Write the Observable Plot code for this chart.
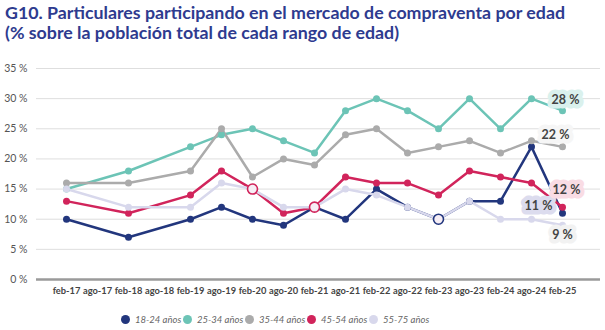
<!DOCTYPE html>
<html><head><meta charset="utf-8">
<script src="https://cdn.jsdelivr.net/npm/d3@7"></script>
<script src="https://cdn.jsdelivr.net/npm/@observablehq/plot@0.6"></script>
<style>
body{margin:0;background:#fff;width:605px;height:330px;overflow:hidden;position:relative;font-family:Lato,sans-serif}
#title{position:absolute;left:5px;top:2px;font-weight:700;font-size:17.8px;line-height:20px;color:#2e3b8f;font-family:Lato,sans-serif;white-space:nowrap}
#chart{position:absolute;left:0;top:48px}
#legend{position:absolute;top:314px;left:121px;display:flex;font-style:italic;font-size:9.5px;color:#666;font-family:Lato,sans-serif;white-space:nowrap}
#legend .it{display:flex;align-items:center;width:62px;flex:none}
#legend .sw{width:9px;height:9px;border-radius:50%;margin-right:5px;flex:none}
</style></head>
<body>
<div id="title">G10. Particulares participando en el mercado de compraventa por edad<br>(% sobre la población total de cada rango de edad)</div>
<div id="chart"></div>
<div id="legend"></div>
<script>
// Axis categories (all tick labels)
const dates = ["feb-17","ago-17","feb-18","ago-18","feb-19","ago-19","feb-20","ago-20","feb-21","ago-21","feb-22","ago-22","feb-23","ago-23","feb-24","ago-24","feb-25"];
// Observation dates
const obsDates = ["feb-17","feb-18","feb-19","ago-19","feb-20","ago-20","feb-21","ago-21","feb-22","ago-22","feb-23","ago-23","feb-24","ago-24","feb-25"];
const series = ["18-24 años","25-34 años","35-44 años","45-54 años","55-75 años"];
const v1824 = [10,7,10,12,10,9,12,10,15,12,10,13,13,22,11];
const v2534 = [15,18,22,24,25,23,21,28,30,28,25,30,25,30,28];
const v3544 = [16,16,18,25,17,20,19,24,25,21,22,23,21,23,22];
const v4554 = [13,11,14,18,15,11,12,17,16,16,14,18,17,16,12];
const v5575 = [15,12,12,16,15,12,12,15,14,12,10,13,10,10,9];
const yTicks = [0,5,10,15,20,25,30,35];
// highlighted (overlapping) markers
const rings = [["feb-20","45-54 años"],["feb-21","45-54 años"],["feb-23","18-24 años"]];

// styles
const colors = ["#22367d","#6cc4b6","#ababab","#d1245b","#d8d8ec"];
const labelBg = {"18-24 años":"#dcdcee","25-34 años":"#daf1ed","35-44 años":"#f6f6f6","45-54 años":"#f9dce4","55-75 años":"#f2f2f2"};
const labelOffset = {"18-24 años":[-24,-7],"25-34 años":[3,-11],"35-44 años":[-7,-12],"45-54 años":[4,-17],"55-75 años":[0,10]};

const valuesBySeries = [v1824,v2534,v3544,v4554,v5575];
const rows = [];
series.forEach((s,i)=>obsDates.forEach((d,j)=>rows.push({serie:s,date:d,value:valuesBySeries[i][j]})));
const lookup = (d,s)=>rows.find(r=>r.date===d&&r.serie===s);
const ringRows = rings.map(([d,s])=>lookup(d,s));
const lastRows = series.map(s=>lookup(obsDates[obsDates.length-1],s));

const chart = Plot.plot({
  width:605, height:258,
  marginTop:20, marginBottom:27, marginLeft:36, marginRight:5,
  style:{fontFamily:"Lato,sans-serif", background:"transparent"},
  x:{type:"point", domain:dates, insetLeft:11, insetRight:20, label:null},
  y:{domain:[0,35], label:null},
  color:{domain:series, range:colors},
  marks:[
    Plot.gridY(yTicks,{stroke:"#dedede", strokeOpacity:1, strokeWidth:1}),
    Plot.ruleY([0],{stroke:"#9a9a9a", strokeWidth:2.5}),
    Plot.axisY(yTicks,{tickSize:0, tickPadding:9, tickFormat:d=>d+" %", fontSize:10.5, fill:"#555", label:null}),
    Plot.axisX({tickSize:0, tickPadding:8, fontSize:9.3, fontWeight:700, fill:"#444", label:null}),
    Plot.line(rows,{x:"date", y:"value", z:"serie", stroke:"serie", strokeWidth:2.5}),
    Plot.dot(rows,{x:"date", y:"value", fill:"serie", r:3.5}),
    Plot.dot(ringRows,{x:"date", y:"value", stroke:"serie", r:5, strokeWidth:1.6, fill:"#f6eef5"}),
    ...lastRows.map(r=>Plot.text([r],{x:"date", y:"value", text:d=>d.value+" %",
       dx:labelOffset[r.serie][0], dy:labelOffset[r.serie][1],
       fill:"#444", stroke:labelBg[r.serie], strokeWidth:9, strokeLinejoin:"round",
       fontSize:12.5, fontWeight:700}))
  ]
});
document.getElementById("chart").appendChild(chart);

const leg = document.getElementById("legend");
series.forEach((s,i)=>{
  const it=document.createElement("div"); it.className="it";
  const sw=document.createElement("span"); sw.className="sw"; sw.style.background=colors[i];
  const t=document.createElement("span"); t.textContent=s;
  it.appendChild(sw); it.appendChild(t); leg.appendChild(it);
});
</script>
</body></html>
